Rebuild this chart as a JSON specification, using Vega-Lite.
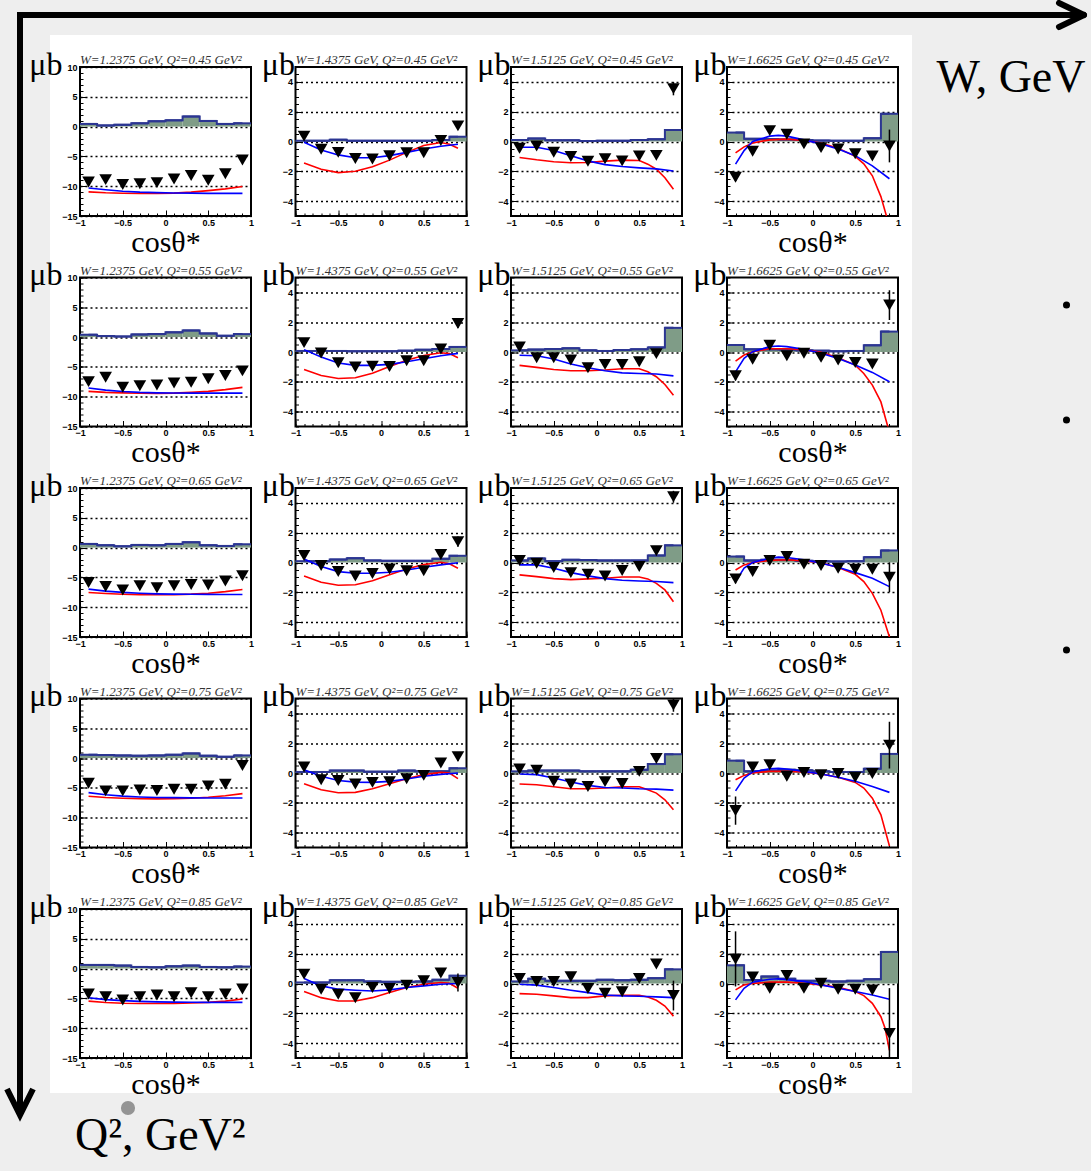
{
"$schema": "https://vega.github.io/schema/vega-lite/v6.json",
"padding": {"left": -5, "top": -5, "right": 0, "bottom": 0},
"background": "#eeeeee",
"spacing": 0,
"bounds": "flush",
"config": {
  "view": {"stroke": null},
  "axis": {"labelFont": "Liberation Sans", "labelFontWeight": "bold", "labelFontSize": 9, "labelColor": "black", "tickColor": "black", "tickWidth": 1, "domain": false, "grid": false, "labelFlush": false, "labelOverlap": false, "labelBound": false, "titleFont": "Liberation Serif", "titleFontWeight": "normal", "titleColor": "black", "gridColor": "black", "gridDash": [2, 3], "gridWidth": 1.3, "gridOpacity": 1},
  "headerFacet": {"labels": false, "title": null, "labelExpr": "''", "labelPadding": 0}
},
"hconcat": [
  {
    "width": 80, "height": 1176,
    "data": {"values": [{}]},
    "layer": [
      {"mark": {"type": "rect", "fill": "white"},
       "encoding": {"x": {"datum": 50, "type": "quantitative", "scale": {"domain": [0, 80], "nice": false, "zero": false}, "axis": null}, "x2": {"datum": 912},
                    "y": {"datum": 40, "type": "quantitative", "scale": {"domain": [1176, 0], "nice": false, "zero": false}, "axis": null}, "y2": {"datum": 1098}}},
      {"mark": {"type": "rule", "stroke": "black", "strokeWidth": 6},
       "encoding": {"x": {"datum": 20, "type": "quantitative"}, "y": {"datum": 17, "type": "quantitative"}, "y2": {"datum": 1119}}},
      {"mark": {"type": "rule", "stroke": "black", "strokeWidth": 6},
       "encoding": {"x": {"datum": 17, "type": "quantitative"}, "x2": {"datum": 81}, "y": {"datum": 20, "type": "quantitative"}}},
      {"mark": {"type": "point", "shape": "M-1,-2L0,0L1,-2", "filled": false, "stroke": "black", "strokeWidth": 6, "size": 676, "opacity": 1},
       "encoding": {"x": {"datum": 20, "type": "quantitative"}, "y": {"datum": 1120, "type": "quantitative"}}}
    ]
  },
  {
    "spacing": 0,
    "bounds": "full",
    "vconcat": [
      {
        "width": 1011, "height": 42,
        "data": {"values": [{}]},
        "layer": [
          {"mark": {"type": "rule", "stroke": "black", "strokeWidth": 6},
           "encoding": {"x": {"datum": 0, "type": "quantitative", "scale": {"domain": [0, 1011], "nice": false, "zero": false}, "axis": null}, "x2": {"datum": 1002},
                        "y": {"datum": 20, "type": "quantitative", "scale": {"domain": [42, 0], "nice": false, "zero": false}, "axis": null}}},
          {"mark": {"type": "rule", "stroke": "black", "strokeWidth": 6, "strokeCap": "round"},
           "encoding": {"x": {"datum": 979, "type": "quantitative"}, "x2": {"datum": 1004}, "y": {"datum": 8, "type": "quantitative"}, "y2": {"datum": 20}}},
          {"mark": {"type": "rule", "stroke": "black", "strokeWidth": 6, "strokeCap": "round"},
           "encoding": {"x": {"datum": 979, "type": "quantitative"}, "x2": {"datum": 1004}, "y": {"datum": 32, "type": "quantitative"}, "y2": {"datum": 20}}}
        ]
      },
      {
        "spacing": 4.5,
        "bounds": "full",
        "hconcat": [
          {
            "data": {"values": [
              {"k":"0.45 1.2375","x":-0.9,"lo":-1,"hi":-0.8,"h":0.45,"p":-9.3,"r":-10.95,"b":-10.3,"t":"W=1.2375 GeV, Q²=0.45 GeV²"},
              {"k":"0.45 1.2375","x":-0.7,"lo":-0.8,"hi":-0.6,"h":0.2,"p":-8.9,"r":-11.1,"b":-10.6},
              {"k":"0.45 1.2375","x":-0.5,"lo":-0.6,"hi":-0.4,"h":0.3,"p":-9.7,"r":-11.18,"b":-10.85},
              {"k":"0.45 1.2375","x":-0.3,"lo":-0.4,"hi":-0.2,"h":0.55,"p":-9.6,"r":-11.22,"b":-11.0},
              {"k":"0.45 1.2375","x":-0.1,"lo":-0.2,"hi":0,"h":0.9,"p":-9.4,"r":-11.22,"b":-11.08},
              {"k":"0.45 1.2375","x":0.1,"lo":0,"hi":0.2,"h":1.05,"p":-8.8,"r":-11.17,"b":-11.13},
              {"k":"0.45 1.2375","x":0.3,"lo":0.2,"hi":0.4,"h":1.7,"p":-8.2,"r":-11.0,"b":-11.17},
              {"k":"0.45 1.2375","x":0.5,"lo":0.4,"hi":0.6,"h":0.95,"p":-9.0,"r":-10.75,"b":-11.2},
              {"k":"0.45 1.2375","x":0.7,"lo":0.6,"hi":0.8,"h":0.45,"p":-7.9,"r":-10.45,"b":-11.2},
              {"k":"0.45 1.2375","x":0.9,"lo":0.8,"hi":1,"h":0.55,"p":-5.6,"r":-10.05,"b":-11.2},
              {"k":"0.55 1.2375","x":-0.9,"lo":-1,"hi":-0.8,"h":0.4,"p":-7.47,"r":-9.1,"b":-8.54,"t":"W=1.2375 GeV, Q²=0.55 GeV²"},
              {"k":"0.55 1.2375","x":-0.7,"lo":-0.8,"hi":-0.6,"h":0.17,"p":-6.74,"r":-9.27,"b":-8.9},
              {"k":"0.55 1.2375","x":-0.5,"lo":-0.6,"hi":-0.4,"h":0.1,"p":-8.43,"r":-9.36,"b":-9.12},
              {"k":"0.55 1.2375","x":-0.3,"lo":-0.4,"hi":-0.2,"h":0.45,"p":-8.15,"r":-9.42,"b":-9.27},
              {"k":"0.55 1.2375","x":-0.1,"lo":-0.2,"hi":0,"h":0.5,"p":-8.03,"r":-9.44,"b":-9.35},
              {"k":"0.55 1.2375","x":0.1,"lo":0,"hi":0.2,"h":0.8,"p":-7.7,"r":-9.4,"b":-9.38},
              {"k":"0.55 1.2375","x":0.3,"lo":0.2,"hi":0.4,"h":1.12,"p":-7.58,"r":-9.27,"b":-9.4},
              {"k":"0.55 1.2375","x":0.5,"lo":0.4,"hi":0.6,"h":0.62,"p":-7.0,"r":-9.1,"b":-9.4},
              {"k":"0.55 1.2375","x":0.7,"lo":0.6,"hi":0.8,"h":0.22,"p":-6.46,"r":-8.82,"b":-9.4},
              {"k":"0.55 1.2375","x":0.9,"lo":0.8,"hi":1,"h":0.5,"p":-5.67,"r":-8.43,"b":-9.4},
              {"k":"0.65 1.2375","x":-0.9,"lo":-1,"hi":-0.8,"h":0.62,"p":-5.84,"r":-7.53,"b":-6.97,"t":"W=1.2375 GeV, Q²=0.65 GeV²"},
              {"k":"0.65 1.2375","x":-0.7,"lo":-0.8,"hi":-0.6,"h":0.4,"p":-6.52,"r":-7.7,"b":-7.3},
              {"k":"0.65 1.2375","x":-0.5,"lo":-0.6,"hi":-0.4,"h":0.22,"p":-7.13,"r":-7.82,"b":-7.52},
              {"k":"0.65 1.2375","x":-0.3,"lo":-0.4,"hi":-0.2,"h":0.45,"p":-6.4,"r":-7.89,"b":-7.67},
              {"k":"0.65 1.2375","x":-0.1,"lo":-0.2,"hi":0,"h":0.4,"p":-6.74,"r":-7.92,"b":-7.76},
              {"k":"0.65 1.2375","x":0.1,"lo":0,"hi":0.2,"h":0.62,"p":-6.4,"r":-7.9,"b":-7.8},
              {"k":"0.65 1.2375","x":0.3,"lo":0.2,"hi":0.4,"h":0.9,"p":-6.18,"r":-7.81,"b":-7.83},
              {"k":"0.65 1.2375","x":0.5,"lo":0.4,"hi":0.6,"h":0.4,"p":-6.29,"r":-7.65,"b":-7.85},
              {"k":"0.65 1.2375","x":0.7,"lo":0.6,"hi":0.8,"h":0.28,"p":-5.62,"r":-7.38,"b":-7.86},
              {"k":"0.65 1.2375","x":0.9,"lo":0.8,"hi":1,"h":0.56,"p":-4.72,"r":-7.02,"b":-7.87},
              {"k":"0.75 1.2375","x":-0.9,"lo":-1,"hi":-0.8,"h":0.56,"p":-4.21,"r":-6.4,"b":-5.79,"t":"W=1.2375 GeV, Q²=0.75 GeV²"},
              {"k":"0.75 1.2375","x":-0.7,"lo":-0.8,"hi":-0.6,"h":0.5,"p":-5.5,"r":-6.6,"b":-6.15},
              {"k":"0.75 1.2375","x":-0.5,"lo":-0.6,"hi":-0.4,"h":0.45,"p":-5.5,"r":-6.73,"b":-6.38},
              {"k":"0.75 1.2375","x":-0.3,"lo":-0.4,"hi":-0.2,"h":0.4,"p":-5.34,"r":-6.8,"b":-6.52},
              {"k":"0.75 1.2375","x":-0.1,"lo":-0.2,"hi":0,"h":0.45,"p":-5.45,"r":-6.84,"b":-6.6},
              {"k":"0.75 1.2375","x":0.1,"lo":0,"hi":0.2,"h":0.56,"p":-5.22,"r":-6.83,"b":-6.64},
              {"k":"0.75 1.2375","x":0.3,"lo":0.2,"hi":0.4,"h":0.79,"p":-5.22,"r":-6.74,"b":-6.67},
              {"k":"0.75 1.2375","x":0.5,"lo":0.4,"hi":0.6,"h":0.4,"p":-4.66,"r":-6.58,"b":-6.69},
              {"k":"0.75 1.2375","x":0.7,"lo":0.6,"hi":0.8,"h":0.22,"p":-4.38,"r":-6.33,"b":-6.69},
              {"k":"0.75 1.2375","x":0.9,"lo":0.8,"hi":1,"h":0.45,"p":-1.24,"r":-5.96,"b":-6.69},
              {"k":"0.85 1.2375","x":-0.9,"lo":-1,"hi":-0.8,"h":0.62,"p":-4.27,"r":-5.45,"b":-4.89,"t":"W=1.2375 GeV, Q²=0.85 GeV²"},
              {"k":"0.85 1.2375","x":-0.7,"lo":-0.8,"hi":-0.6,"h":0.62,"p":-4.72,"r":-5.7,"b":-5.2},
              {"k":"0.85 1.2375","x":-0.5,"lo":-0.6,"hi":-0.4,"h":0.5,"p":-5.28,"e":0.4,"r":-5.82,"b":-5.38},
              {"k":"0.85 1.2375","x":-0.3,"lo":-0.4,"hi":-0.2,"h":0.28,"p":-4.72,"r":-5.86,"b":-5.5},
              {"k":"0.85 1.2375","x":-0.1,"lo":-0.2,"hi":0,"h":0.22,"p":-4.44,"r":-5.86,"b":-5.58},
              {"k":"0.85 1.2375","x":0.1,"lo":0,"hi":0.2,"h":0.39,"p":-4.72,"r":-5.84,"b":-5.62},
              {"k":"0.85 1.2375","x":0.3,"lo":0.2,"hi":0.4,"h":0.5,"p":-4.04,"r":-5.78,"b":-5.65},
              {"k":"0.85 1.2375","x":0.5,"lo":0.4,"hi":0.6,"h":0.28,"p":-4.72,"r":-5.67,"b":-5.67},
              {"k":"0.85 1.2375","x":0.7,"lo":0.6,"hi":0.8,"h":0.22,"p":-4.27,"r":-5.45,"b":-5.67},
              {"k":"0.85 1.2375","x":0.9,"lo":0.8,"hi":1,"h":0.34,"p":-3.43,"r":-5.11,"b":-5.67}
            ]},
            "facet": {"field": "k", "type": "nominal", "header": {"labels": false, "title": null, "labelExpr": "''", "labelPadding": 0}},
            "columns": 1,
            "spacing": {"row": 61.5, "column": 44.5},
            "bounds": "flush",
            "resolve": {"axis": {"x": "independent", "y": "independent"}},
            "spec": {
              "width": 171, "height": 149,
              "view": {"stroke": "black", "strokeWidth": 2, "fill": "white"},
              "resolve": {"axis": {"x": "independent", "y": "independent"}},
              "layer": [
                {"transform": [{"filter": "isValid(datum.h)"}],
                 "mark": {"type": "rect", "fill": "#7f9c87"},
                 "encoding": {
                   "x": {"field": "lo", "type": "quantitative", "scale": {"domain": [-1, 1], "nice": false, "zero": false}, "axis": {"orient": "bottom", "values": [-1,-0.9,-0.8,-0.7,-0.6,-0.5,-0.4,-0.3,-0.2,-0.1,0,0.1,0.2,0.3,0.4,0.5,0.6,0.7,0.8,0.9,1], "labels": false, "tickSize": -3, "title": null}},
                   "x2": {"field": "hi"},
                   "y": {"field": "h", "type": "quantitative", "scale": {"domain": [-15, 10], "nice": false, "zero": false}, "axis": {"orient": "left", "values": [-15,-14,-13,-12,-11,-10,-9,-8,-7,-6,-5,-4,-3,-2,-1,0,1,2,3,4,5,6,7,8,9,10], "labels": false, "tickSize": -3, "title": null}},
                   "y2": {"datum": 0}}},
                {"transform": [{"filter": "isValid(datum.h)"}],
                 "mark": {"type": "rule", "stroke": "#2b3592", "strokeWidth": 2},
                 "encoding": {"x": {"field": "lo", "type": "quantitative", "axis": null}, "x2": {"field": "hi"}, "y": {"field": "h", "type": "quantitative", "axis": null}}},
                {"transform": [{"filter": "isValid(datum.h)"}],
                 "mark": {"type": "line", "interpolate": "step", "stroke": "#2b3592", "strokeWidth": 2},
                 "encoding": {"x": {"field": "x", "type": "quantitative", "axis": null}, "y": {"field": "h", "type": "quantitative", "axis": null}}},
                {"transform": [{"filter": "isValid(datum.r)"}],
                 "mark": {"type": "line", "stroke": "#ff0000", "strokeWidth": 1.6, "clip": true},
                 "encoding": {"x": {"field": "x", "type": "quantitative", "axis": null}, "y": {"field": "r", "type": "quantitative", "axis": null}}},
                {"transform": [{"filter": "isValid(datum.b)"}],
                 "mark": {"type": "line", "stroke": "#0000ff", "strokeWidth": 1.6, "clip": true},
                 "encoding": {"x": {"field": "x", "type": "quantitative", "axis": null}, "y": {"field": "b", "type": "quantitative", "axis": null}}},
                {"transform": [{"filter": "datum.e > 0"}],
                 "mark": {"type": "errorbar", "ticks": false, "color": "black", "thickness": 1.5, "clip": true},
                 "encoding": {"x": {"field": "x", "type": "quantitative", "axis": null}, "y": {"field": "p", "type": "quantitative", "axis": null}, "yError": {"field": "e"}}},
                {"transform": [{"filter": "isValid(datum.t)"}],
                 "mark": {"type": "text", "align": "left", "baseline": "alphabetic", "font": "Liberation Serif", "fontStyle": "italic", "fontSize": 13, "color": "#333333", "dy": -3},
                 "encoding": {"x": {"datum": -1, "type": "quantitative", "axis": null}, "y": {"datum": 10, "type": "quantitative", "axis": null}, "text": {"field": "t"}}},
                {"transform": [{"filter": "isValid(datum.p)"}],
                 "mark": {"type": "point", "shape": "triangle-down", "filled": true, "color": "black", "size": 160, "opacity": 1},
                 "encoding": {
                   "x": {"field": "x", "type": "quantitative", "axis": {"orient": "bottom", "values": [-1, -0.5, 0, 0.5, 1], "format": "~g", "tickSize": -6, "labelPadding": 8, "title": "cosθ*", "titleFontSize": 30, "titleBaseline": "alphabetic", "titleY": 35}},
                   "y": {"field": "p", "type": "quantitative", "axis": {"orient": "left", "values": [-15, -10, -5, 0, 5, 10], "tickSize": -6, "labelPadding": 9, "grid": true, "title": "μb", "titleFontSize": 32, "titleAngle": 0, "titleAlign": "right", "titleBaseline": "alphabetic", "titleX": -18, "titleY": 7}}}}
              ]
            }
          },
          {
            "data": {"values": [
              {"k":"0.45 1.4375","x":-0.9,"lo":-1,"hi":-0.8,"h":0.05,"p":0.36,"r":-1.45,"b":-0.05,"t":"W=1.4375 GeV, Q²=0.45 GeV²"},
              {"k":"0.45 1.4375","x":-0.7,"lo":-0.8,"hi":-0.6,"h":0.05,"p":-0.52,"r":-1.86,"b":-0.57},
              {"k":"0.45 1.4375","x":-0.5,"lo":-0.6,"hi":-0.4,"h":0.12,"p":-0.73,"r":-2.09,"b":-0.9},
              {"k":"0.45 1.4375","x":-0.3,"lo":-0.4,"hi":-0.2,"h":0.05,"p":-1.14,"r":-2.0,"b":-1.09},
              {"k":"0.45 1.4375","x":-0.1,"lo":-0.2,"hi":0,"h":0.05,"p":-1.18,"r":-1.7,"b":-1.09},
              {"k":"0.45 1.4375","x":0.1,"lo":0,"hi":0.2,"h":0.05,"p":-0.95,"r":-1.25,"b":-0.95},
              {"k":"0.45 1.4375","x":0.3,"lo":0.2,"hi":0.4,"h":0.05,"p":-0.75,"r":-0.73,"b":-0.73},
              {"k":"0.45 1.4375","x":0.5,"lo":0.4,"hi":0.6,"h":0.05,"p":-0.75,"r":-0.27,"b":-0.5},
              {"k":"0.45 1.4375","x":0.7,"lo":0.6,"hi":0.8,"h":0.1,"p":0.07,"r":-0.07,"b":-0.32},
              {"k":"0.45 1.4375","x":0.8,"r":-0.18},
              {"k":"0.45 1.4375","x":0.9,"lo":0.8,"hi":1,"h":0.32,"p":1.05,"r":-0.45,"b":-0.18},
              {"k":"0.45 1.5125","x":-0.9,"lo":-1,"hi":-0.8,"h":0.1,"p":-0.45,"r":-1.07,"b":-0.39,"t":"W=1.5125 GeV, Q²=0.45 GeV²"},
              {"k":"0.45 1.5125","x":-0.7,"lo":-0.8,"hi":-0.6,"h":0.2,"p":-0.3,"r":-1.23,"b":-0.39},
              {"k":"0.45 1.5125","x":-0.5,"lo":-0.6,"hi":-0.4,"h":0.08,"p":-0.72,"r":-1.36,"b":-0.61},
              {"k":"0.45 1.5125","x":-0.3,"lo":-0.4,"hi":-0.2,"h":0.08,"p":-1.0,"r":-1.43,"b":-0.95},
              {"k":"0.45 1.5125","x":-0.1,"lo":-0.2,"hi":0,"h":0.03,"p":-1.33,"r":-1.41,"b":-1.3},
              {"k":"0.45 1.5125","x":0.1,"lo":0,"hi":0.2,"h":0.05,"p":-1.16,"r":-1.32,"b":-1.55},
              {"k":"0.45 1.5125","x":0.3,"lo":0.2,"hi":0.4,"h":0.05,"p":-1.3,"r":-1.25,"b":-1.68},
              {"k":"0.45 1.5125","x":0.5,"lo":0.4,"hi":0.6,"h":0.1,"p":-0.98,"r":-1.28,"b":-1.77},
              {"k":"0.45 1.5125","x":0.6,"r":-1.52},
              {"k":"0.45 1.5125","x":0.7,"lo":0.6,"hi":0.8,"h":0.15,"p":-0.93,"r":-1.86,"b":-1.84},
              {"k":"0.45 1.5125","x":0.8,"r":-2.43},
              {"k":"0.45 1.5125","x":0.9,"lo":0.8,"hi":1,"h":0.77,"p":3.55,"e":0.45,"r":-3.2,"b":-1.98},
              {"k":"0.55 1.4375","x":-0.9,"lo":-1,"hi":-0.8,"h":0.07,"p":0.63,"r":-1.17,"b":0.16,"t":"W=1.4375 GeV, Q²=0.55 GeV²"},
              {"k":"0.55 1.4375","x":-0.7,"lo":-0.8,"hi":-0.6,"h":0.07,"p":-0.07,"r":-1.58,"b":-0.34},
              {"k":"0.55 1.4375","x":-0.5,"lo":-0.6,"hi":-0.4,"h":0.07,"p":-0.72,"r":-1.78,"b":-0.74},
              {"k":"0.55 1.4375","x":-0.3,"lo":-0.4,"hi":-0.2,"h":0.05,"p":-1.01,"r":-1.73,"b":-0.9},
              {"k":"0.55 1.4375","x":-0.1,"lo":-0.2,"hi":0,"h":0.05,"p":-0.95,"r":-1.42,"b":-0.9},
              {"k":"0.55 1.4375","x":0.1,"lo":0,"hi":0.2,"h":0.05,"p":-0.97,"r":-0.97,"b":-0.83},
              {"k":"0.55 1.4375","x":0.3,"lo":0.2,"hi":0.4,"h":0.09,"p":-0.59,"r":-0.56,"b":-0.65},
              {"k":"0.55 1.4375","x":0.5,"lo":0.4,"hi":0.6,"h":0.15,"p":-0.59,"r":-0.23,"b":-0.45},
              {"k":"0.55 1.4375","x":0.7,"lo":0.6,"hi":0.8,"h":0.2,"p":0.2,"r":-0.05,"b":-0.25},
              {"k":"0.55 1.4375","x":0.8,"r":-0.11},
              {"k":"0.55 1.4375","x":0.9,"lo":0.8,"hi":1,"h":0.34,"p":1.91,"e":0.3,"r":-0.38,"b":-0.09},
              {"k":"0.55 1.5125","x":-0.9,"lo":-1,"hi":-0.8,"h":0.11,"p":0.34,"r":-0.9,"b":-0.22,"t":"W=1.5125 GeV, Q²=0.55 GeV²"},
              {"k":"0.55 1.5125","x":-0.7,"lo":-0.8,"hi":-0.6,"h":0.16,"p":-0.38,"r":-1.03,"b":-0.25},
              {"k":"0.55 1.5125","x":-0.5,"lo":-0.6,"hi":-0.4,"h":0.2,"p":-0.38,"r":-1.17,"b":-0.47},
              {"k":"0.55 1.5125","x":-0.3,"lo":-0.4,"hi":-0.2,"h":0.25,"p":-0.54,"r":-1.26,"b":-0.81},
              {"k":"0.55 1.5125","x":-0.1,"lo":-0.2,"hi":0,"h":0.11,"p":-1.06,"r":-1.26,"b":-1.06},
              {"k":"0.55 1.5125","x":0.1,"lo":0,"hi":0.2,"h":0.07,"p":-0.83,"r":-1.21,"b":-1.26},
              {"k":"0.55 1.5125","x":0.3,"lo":0.2,"hi":0.4,"h":0.13,"p":-0.83,"r":-1.12,"b":-1.4},
              {"k":"0.55 1.5125","x":0.5,"lo":0.4,"hi":0.6,"h":0.18,"p":-0.65,"r":-1.12,"b":-1.44},
              {"k":"0.55 1.5125","x":0.6,"r":-1.33},
              {"k":"0.55 1.5125","x":0.7,"lo":0.6,"hi":0.8,"h":0.31,"p":-0.11,"r":-1.66,"b":-1.48},
              {"k":"0.55 1.5125","x":0.8,"r":-2.18},
              {"k":"0.55 1.5125","x":0.9,"lo":0.8,"hi":1,"h":1.62,"r":-2.9,"b":-1.6},
              {"k":"0.65 1.4375","x":-0.9,"lo":-1,"hi":-0.8,"h":0.09,"p":0.47,"r":-0.9,"b":0.23,"t":"W=1.4375 GeV, Q²=0.65 GeV²"},
              {"k":"0.65 1.4375","x":-0.7,"lo":-0.8,"hi":-0.6,"h":0.09,"p":-0.2,"r":-1.33,"b":-0.27},
              {"k":"0.65 1.4375","x":-0.5,"lo":-0.6,"hi":-0.4,"h":0.2,"p":-0.61,"r":-1.53,"b":-0.61},
              {"k":"0.65 1.4375","x":-0.3,"lo":-0.4,"hi":-0.2,"h":0.29,"p":-0.9,"r":-1.49,"b":-0.72},
              {"k":"0.65 1.4375","x":-0.1,"lo":-0.2,"hi":0,"h":0.14,"p":-0.74,"r":-1.22,"b":-0.72},
              {"k":"0.65 1.4375","x":0.1,"lo":0,"hi":0.2,"h":0.11,"p":-0.43,"r":-0.83,"b":-0.65},
              {"k":"0.65 1.4375","x":0.3,"lo":0.2,"hi":0.4,"h":0.11,"p":-0.56,"r":-0.43,"b":-0.5},
              {"k":"0.65 1.4375","x":0.5,"lo":0.4,"hi":0.6,"h":0.11,"p":-0.56,"r":-0.14,"b":-0.32},
              {"k":"0.65 1.4375","x":0.7,"lo":0.6,"hi":0.8,"h":0.25,"p":0.54,"r":0.02,"b":-0.16},
              {"k":"0.65 1.4375","x":0.8,"r":-0.09},
              {"k":"0.65 1.4375","x":0.9,"lo":0.8,"hi":1,"h":0.45,"p":1.4,"e":0.35,"r":-0.38,"b":-0.02},
              {"k":"0.65 1.5125","x":-0.9,"lo":-1,"hi":-0.8,"h":0.14,"p":0.14,"r":-0.83,"b":-0.16,"t":"W=1.5125 GeV, Q²=0.65 GeV²"},
              {"k":"0.65 1.5125","x":-0.7,"lo":-0.8,"hi":-0.6,"h":0.27,"p":-0.05,"r":-0.95,"b":-0.16},
              {"k":"0.65 1.5125","x":-0.5,"lo":-0.6,"hi":-0.4,"h":0.09,"p":-0.34,"r":-1.08,"b":-0.38},
              {"k":"0.65 1.5125","x":-0.3,"lo":-0.4,"hi":-0.2,"h":0.18,"p":-0.68,"r":-1.15,"b":-0.68},
              {"k":"0.65 1.5125","x":-0.1,"lo":-0.2,"hi":0,"h":0.16,"p":-0.79,"r":-1.1,"b":-0.9},
              {"k":"0.65 1.5125","x":0.1,"lo":0,"hi":0.2,"h":0.14,"p":-0.9,"r":-1.06,"b":-1.08},
              {"k":"0.65 1.5125","x":0.3,"lo":0.2,"hi":0.4,"h":0.14,"p":-0.54,"r":-0.97,"b":-1.19},
              {"k":"0.65 1.5125","x":0.5,"lo":0.4,"hi":0.6,"h":0.14,"p":-0.27,"r":-0.97,"b":-1.24},
              {"k":"0.65 1.5125","x":0.6,"r":-1.1},
              {"k":"0.65 1.5125","x":0.7,"lo":0.6,"hi":0.8,"h":0.47,"p":0.79,"r":-1.4,"b":-1.28},
              {"k":"0.65 1.5125","x":0.8,"r":-1.84},
              {"k":"0.65 1.5125","x":0.9,"lo":0.8,"hi":1,"h":1.15,"p":4.41,"e":0.4,"r":-2.63,"b":-1.35},
              {"k":"0.75 1.4375","x":-0.9,"lo":-1,"hi":-0.8,"h":0.07,"p":0.4,"r":-0.72,"b":0.22,"t":"W=1.4375 GeV, Q²=0.75 GeV²"},
              {"k":"0.75 1.4375","x":-0.7,"lo":-0.8,"hi":-0.6,"h":0.07,"p":-0.45,"r":-1.12,"b":-0.22},
              {"k":"0.75 1.4375","x":-0.5,"lo":-0.6,"hi":-0.4,"h":0.16,"p":-0.5,"r":-1.33,"b":-0.5},
              {"k":"0.75 1.4375","x":-0.3,"lo":-0.4,"hi":-0.2,"h":0.16,"p":-0.74,"r":-1.3,"b":-0.61},
              {"k":"0.75 1.4375","x":-0.1,"lo":-0.2,"hi":0,"h":0.09,"p":-0.63,"r":-1.06,"b":-0.63},
              {"k":"0.75 1.4375","x":0.1,"lo":0,"hi":0.2,"h":0.09,"p":-0.58,"r":-0.72,"b":-0.56},
              {"k":"0.75 1.4375","x":0.3,"lo":0.2,"hi":0.4,"h":0.16,"p":-0.38,"r":-0.38,"b":-0.4},
              {"k":"0.75 1.4375","x":0.5,"lo":0.4,"hi":0.6,"h":0.11,"p":-0.16,"r":-0.11,"b":-0.22},
              {"k":"0.75 1.4375","x":0.7,"lo":0.6,"hi":0.8,"h":0.11,"p":0.67,"r":0.04,"b":-0.09},
              {"k":"0.75 1.4375","x":0.8,"r":0},
              {"k":"0.75 1.4375","x":0.9,"lo":0.8,"hi":1,"h":0.32,"p":1.1,"e":0.3,"r":-0.38,"b":0},
              {"k":"0.75 1.5125","x":-0.9,"lo":-1,"hi":-0.8,"h":0.11,"p":0.27,"r":-0.74,"b":-0.07,"t":"W=1.5125 GeV, Q²=0.75 GeV²"},
              {"k":"0.75 1.5125","x":-0.7,"lo":-0.8,"hi":-0.6,"h":0.16,"p":0.18,"r":-0.79,"b":-0.11},
              {"k":"0.75 1.5125","x":-0.5,"lo":-0.6,"hi":-0.4,"h":0.16,"p":-0.56,"r":-0.92,"b":-0.34},
              {"k":"0.75 1.5125","x":-0.3,"lo":-0.4,"hi":-0.2,"h":0.16,"p":-0.74,"r":-1.06,"b":-0.61},
              {"k":"0.75 1.5125","x":-0.1,"lo":-0.2,"hi":0,"h":0.11,"p":-0.9,"r":-1.06,"b":-0.83},
              {"k":"0.75 1.5125","x":0.1,"lo":0,"hi":0.2,"h":0.11,"p":-0.58,"r":-1.01,"b":-0.97},
              {"k":"0.75 1.5125","x":0.3,"lo":0.2,"hi":0.4,"h":0.11,"p":-0.7,"r":-0.92,"b":-1.01},
              {"k":"0.75 1.5125","x":0.5,"lo":0.4,"hi":0.6,"h":0.22,"p":0.11,"r":-0.92,"b":-1.06},
              {"k":"0.75 1.5125","x":0.6,"r":-1.12},
              {"k":"0.75 1.5125","x":0.7,"lo":0.6,"hi":0.8,"h":0.6,"p":0.97,"r":-1.35,"b":-1.08},
              {"k":"0.75 1.5125","x":0.8,"r":-1.8},
              {"k":"0.75 1.5125","x":0.9,"lo":0.8,"hi":1,"h":1.26,"p":4.56,"e":0.45,"r":-2.47,"b":-1.15},
              {"k":"0.85 1.4375","x":-0.9,"lo":-1,"hi":-0.8,"h":0.07,"p":0.63,"r":-0.54,"b":0.34,"t":"W=1.4375 GeV, Q²=0.85 GeV²"},
              {"k":"0.85 1.4375","x":-0.7,"lo":-0.8,"hi":-0.6,"h":0.07,"p":-0.38,"r":-0.95,"b":-0.16},
              {"k":"0.85 1.4375","x":-0.5,"lo":-0.6,"hi":-0.4,"h":0.22,"p":-0.72,"r":-1.17,"b":-0.38},
              {"k":"0.85 1.4375","x":-0.3,"lo":-0.4,"hi":-0.2,"h":0.22,"p":-0.95,"r":-1.17,"b":-0.45},
              {"k":"0.85 1.4375","x":-0.1,"lo":-0.2,"hi":0,"h":0.14,"p":-0.27,"r":-0.95,"b":-0.5},
              {"k":"0.85 1.4375","x":0.1,"lo":0,"hi":0.2,"h":0.11,"p":-0.34,"r":-0.61,"b":-0.43},
              {"k":"0.85 1.4375","x":0.3,"lo":0.2,"hi":0.4,"h":0.11,"p":-0.11,"r":-0.27,"b":-0.27},
              {"k":"0.85 1.4375","x":0.5,"lo":0.4,"hi":0.6,"h":0.14,"p":0.18,"r":-0.05,"b":-0.16},
              {"k":"0.85 1.4375","x":0.7,"lo":0.6,"hi":0.8,"h":0.25,"p":0.7,"r":0.07,"b":-0.05},
              {"k":"0.85 1.4375","x":0.8,"r":0.02},
              {"k":"0.85 1.4375","x":0.9,"lo":0.8,"hi":1,"h":0.52,"p":0.07,"e":0.6,"r":-0.32,"b":0},
              {"k":"0.85 1.5125","x":-0.9,"lo":-1,"hi":-0.8,"h":0.14,"p":0.34,"r":-0.68,"b":-0.05,"t":"W=1.5125 GeV, Q²=0.85 GeV²"},
              {"k":"0.85 1.5125","x":-0.7,"lo":-0.8,"hi":-0.6,"h":0.32,"p":0.14,"r":-0.72,"b":-0.11},
              {"k":"0.85 1.5125","x":-0.5,"lo":-0.6,"hi":-0.4,"h":0.18,"p":0.14,"r":-0.83,"b":-0.27},
              {"k":"0.85 1.5125","x":-0.3,"lo":-0.4,"hi":-0.2,"h":0.18,"p":0.45,"r":-0.95,"b":-0.45},
              {"k":"0.85 1.5125","x":-0.1,"lo":-0.2,"hi":0,"h":0.18,"p":-0.34,"r":-0.95,"b":-0.61},
              {"k":"0.85 1.5125","x":0.1,"lo":0,"hi":0.2,"h":0.25,"p":-0.65,"r":-0.83,"b":-0.77},
              {"k":"0.85 1.5125","x":0.3,"lo":0.2,"hi":0.4,"h":0.22,"p":-0.56,"r":-0.79,"b":-0.83},
              {"k":"0.85 1.5125","x":0.5,"lo":0.4,"hi":0.6,"h":0.25,"p":0.34,"r":-0.79,"b":-0.86},
              {"k":"0.85 1.5125","x":0.6,"r":-0.9},
              {"k":"0.85 1.5125","x":0.7,"lo":0.6,"hi":0.8,"h":0.36,"p":1.31,"r":-1.13,"b":-0.9},
              {"k":"0.85 1.5125","x":0.8,"r":-1.51},
              {"k":"0.85 1.5125","x":0.9,"lo":0.8,"hi":1,"h":0.95,"p":-0.81,"e":1.0,"r":-2.19,"b":-0.95}
            ]},
            "facet": {"field": "k", "type": "nominal", "header": {"labels": false, "title": null, "labelExpr": "''", "labelPadding": 0}},
            "columns": 2,
            "spacing": {"row": 61.5, "column": 44.5},
            "bounds": "flush",
            "resolve": {"axis": {"x": "independent", "y": "independent"}},
            "spec": {
              "width": 171, "height": 149,
              "view": {"stroke": "black", "strokeWidth": 2, "fill": "white"},
              "resolve": {"axis": {"x": "independent", "y": "independent"}},
              "layer": [
                {"transform": [{"filter": "isValid(datum.h)"}],
                 "mark": {"type": "rect", "fill": "#7f9c87"},
                 "encoding": {
                   "x": {"field": "lo", "type": "quantitative", "scale": {"domain": [-1, 1], "nice": false, "zero": false}, "axis": {"orient": "bottom", "values": [-1,-0.9,-0.8,-0.7,-0.6,-0.5,-0.4,-0.3,-0.2,-0.1,0,0.1,0.2,0.3,0.4,0.5,0.6,0.7,0.8,0.9,1], "labels": false, "tickSize": -3, "title": null}},
                   "x2": {"field": "hi"},
                   "y": {"field": "h", "type": "quantitative", "scale": {"domain": [-5, 5], "nice": false, "zero": false}, "axis": {"orient": "left", "values": [-5,-4.5,-4,-3.5,-3,-2.5,-2,-1.5,-1,-0.5,0,0.5,1,1.5,2,2.5,3,3.5,4,4.5,5], "labels": false, "tickSize": -3, "title": null}},
                   "y2": {"datum": 0}}},
                {"transform": [{"filter": "isValid(datum.h)"}],
                 "mark": {"type": "rule", "stroke": "#2b3592", "strokeWidth": 2},
                 "encoding": {"x": {"field": "lo", "type": "quantitative", "axis": null}, "x2": {"field": "hi"}, "y": {"field": "h", "type": "quantitative", "axis": null}}},
                {"transform": [{"filter": "isValid(datum.h)"}],
                 "mark": {"type": "line", "interpolate": "step", "stroke": "#2b3592", "strokeWidth": 2},
                 "encoding": {"x": {"field": "x", "type": "quantitative", "axis": null}, "y": {"field": "h", "type": "quantitative", "axis": null}}},
                {"transform": [{"filter": "isValid(datum.r)"}],
                 "mark": {"type": "line", "stroke": "#ff0000", "strokeWidth": 1.6, "clip": true},
                 "encoding": {"x": {"field": "x", "type": "quantitative", "axis": null}, "y": {"field": "r", "type": "quantitative", "axis": null}}},
                {"transform": [{"filter": "isValid(datum.b)"}],
                 "mark": {"type": "line", "stroke": "#0000ff", "strokeWidth": 1.6, "clip": true},
                 "encoding": {"x": {"field": "x", "type": "quantitative", "axis": null}, "y": {"field": "b", "type": "quantitative", "axis": null}}},
                {"transform": [{"filter": "datum.e > 0"}],
                 "mark": {"type": "errorbar", "ticks": false, "color": "black", "thickness": 1.5, "clip": true},
                 "encoding": {"x": {"field": "x", "type": "quantitative", "axis": null}, "y": {"field": "p", "type": "quantitative", "axis": null}, "yError": {"field": "e"}}},
                {"transform": [{"filter": "isValid(datum.t)"}],
                 "mark": {"type": "text", "align": "left", "baseline": "alphabetic", "font": "Liberation Serif", "fontStyle": "italic", "fontSize": 13, "color": "#333333", "dy": -3},
                 "encoding": {"x": {"datum": -1, "type": "quantitative", "axis": null}, "y": {"datum": 5, "type": "quantitative", "axis": null}, "text": {"field": "t"}}},
                {"transform": [{"filter": "isValid(datum.p)"}],
                 "mark": {"type": "point", "shape": "triangle-down", "filled": true, "color": "black", "size": 160, "opacity": 1},
                 "encoding": {
                   "x": {"field": "x", "type": "quantitative", "axis": {"orient": "bottom", "values": [-1, -0.5, 0, 0.5, 1], "format": "~g", "tickSize": -6, "labelPadding": 8, "title": null}},
                   "y": {"field": "p", "type": "quantitative", "axis": {"orient": "left", "values": [-4, -2, 0, 2, 4], "tickSize": -6, "labelPadding": 9, "grid": true, "title": "μb", "titleFontSize": 32, "titleAngle": 0, "titleAlign": "right", "titleBaseline": "alphabetic", "titleX": -1, "titleY": 7}}}}
              ]
            }
          },
          {
            "data": {"values": [
              {"k":"0.45 1.6625","x":-0.9,"lo":-1,"hi":-0.8,"h":0.6,"p":-2.4,"e":0.25,"r":-0.77,"b":-1.52,"t":"W=1.6625 GeV, Q²=0.45 GeV²"},
              {"k":"0.45 1.6625","x":-0.8,"r":-0.36,"b":-0.61},
              {"k":"0.45 1.6625","x":-0.7,"lo":-0.8,"hi":-0.6,"h":0.18,"p":-0.66,"r":-0.1,"b":0},
              {"k":"0.45 1.6625","x":-0.5,"lo":-0.6,"hi":-0.4,"h":0.16,"p":0.73,"r":0.11,"b":0.36},
              {"k":"0.45 1.6625","x":-0.4,"b":0.41},
              {"k":"0.45 1.6625","x":-0.3,"lo":-0.4,"hi":-0.2,"h":0.14,"p":0.48,"r":0.16,"b":0.36},
              {"k":"0.45 1.6625","x":-0.1,"lo":-0.2,"hi":0,"h":0.1,"p":-0.16,"r":0.07,"b":0.11},
              {"k":"0.45 1.6625","x":0.1,"lo":0,"hi":0.2,"h":0.06,"p":-0.41,"r":-0.1,"b":-0.16},
              {"k":"0.45 1.6625","x":0.3,"lo":0.2,"hi":0.4,"h":0.05,"p":-0.5,"r":-0.45,"b":-0.5},
              {"k":"0.45 1.6625","x":0.5,"lo":0.4,"hi":0.6,"h":0.05,"p":-0.82,"r":-1.0,"b":-0.95},
              {"k":"0.45 1.6625","x":0.6,"r":-1.5},
              {"k":"0.45 1.6625","x":0.7,"lo":0.6,"hi":0.8,"h":0.22,"p":-0.98,"r":-2.3,"b":-1.64},
              {"k":"0.45 1.6625","x":0.8,"r":-3.7},
              {"k":"0.45 1.6625","x":0.9,"lo":0.8,"hi":1,"h":1.86,"p":-0.3,"e":1.1,"r":-5.7,"b":-2.5},
              {"k":"0.55 1.6625","x":-0.9,"lo":-1,"hi":-0.8,"h":0.47,"p":-1.6,"e":0.3,"r":-0.61,"b":-1.33,"t":"W=1.6625 GeV, Q²=0.55 GeV²"},
              {"k":"0.55 1.6625","x":-0.8,"r":-0.2,"b":-0.43},
              {"k":"0.55 1.6625","x":-0.7,"lo":-0.8,"hi":-0.6,"h":0.18,"p":-0.49,"r":0.02,"b":0.02},
              {"k":"0.55 1.6625","x":-0.5,"lo":-0.6,"hi":-0.4,"h":0.18,"p":0.45,"r":0.22,"b":0.36},
              {"k":"0.55 1.6625","x":-0.4,"b":0.4},
              {"k":"0.55 1.6625","x":-0.3,"lo":-0.4,"hi":-0.2,"h":0.16,"p":-0.25,"r":0.22,"b":0.36},
              {"k":"0.55 1.6625","x":-0.1,"lo":-0.2,"hi":0,"h":0.11,"p":-0.09,"r":0.16,"b":0.18},
              {"k":"0.55 1.6625","x":0.1,"lo":0,"hi":0.2,"h":0.09,"p":-0.36,"r":-0.02,"b":-0.09},
              {"k":"0.55 1.6625","x":0.3,"lo":0.2,"hi":0.4,"h":0.05,"p":-0.54,"r":-0.38,"b":-0.43},
              {"k":"0.55 1.6625","x":0.5,"lo":0.4,"hi":0.6,"h":0.07,"p":-0.7,"r":-0.88,"b":-0.88},
              {"k":"0.55 1.6625","x":0.6,"r":-1.44},
              {"k":"0.55 1.6625","x":0.7,"lo":0.6,"hi":0.8,"h":0.45,"p":-0.81,"r":-2.22,"b":-1.37},
              {"k":"0.55 1.6625","x":0.8,"r":-3.35},
              {"k":"0.55 1.6625","x":0.9,"lo":0.8,"hi":1,"h":1.37,"p":3.15,"e":1.0,"r":-5.4,"b":-2.0},
              {"k":"0.65 1.6625","x":-0.9,"lo":-1,"hi":-0.8,"h":0.4,"p":-1.1,"e":0.3,"r":-0.5,"b":-1.28,"t":"W=1.6625 GeV, Q²=0.65 GeV²"},
              {"k":"0.65 1.6625","x":-0.8,"r":-0.16,"b":-0.38},
              {"k":"0.65 1.6625","x":-0.7,"lo":-0.8,"hi":-0.6,"h":0.14,"p":-0.61,"r":0,"b":0},
              {"k":"0.65 1.6625","x":-0.5,"lo":-0.6,"hi":-0.4,"h":0.18,"p":0.14,"r":0.14,"b":0.29},
              {"k":"0.65 1.6625","x":-0.4,"b":0.36},
              {"k":"0.65 1.6625","x":-0.3,"lo":-0.4,"hi":-0.2,"h":0.18,"p":0.4,"r":0.18,"b":0.34},
              {"k":"0.65 1.6625","x":-0.1,"lo":-0.2,"hi":0,"h":0.11,"p":-0.11,"r":0.11,"b":0.18},
              {"k":"0.65 1.6625","x":0.1,"lo":0,"hi":0.2,"h":0.09,"p":-0.2,"r":-0.02,"b":-0.05},
              {"k":"0.65 1.6625","x":0.3,"lo":0.2,"hi":0.4,"h":0.07,"p":-0.38,"r":-0.34,"b":-0.32},
              {"k":"0.65 1.6625","x":0.5,"lo":0.4,"hi":0.6,"h":0.09,"p":-0.45,"r":-0.79,"b":-0.68},
              {"k":"0.65 1.6625","x":0.6,"r":-1.28},
              {"k":"0.65 1.6625","x":0.7,"lo":0.6,"hi":0.8,"h":0.36,"p":-0.45,"r":-2.07,"b":-1.06},
              {"k":"0.65 1.6625","x":0.8,"r":-3.2},
              {"k":"0.65 1.6625","x":0.9,"lo":0.8,"hi":1,"h":0.81,"p":-0.99,"e":1.0,"r":-5.0,"b":-1.62},
              {"k":"0.75 1.6625","x":-0.9,"lo":-1,"hi":-0.8,"h":0.83,"p":-2.52,"e":0.95,"r":-0.45,"b":-1.2,"t":"W=1.6625 GeV, Q²=0.75 GeV²"},
              {"k":"0.75 1.6625","x":-0.8,"r":-0.16,"b":-0.34},
              {"k":"0.75 1.6625","x":-0.7,"lo":-0.8,"hi":-0.6,"h":0.11,"p":0.4,"r":0,"b":0.07},
              {"k":"0.75 1.6625","x":-0.5,"lo":-0.6,"hi":-0.4,"h":0.16,"p":0.56,"r":0.11,"b":0.29},
              {"k":"0.75 1.6625","x":-0.4,"b":0.31},
              {"k":"0.75 1.6625","x":-0.3,"lo":-0.4,"hi":-0.2,"h":0.22,"p":-0.22,"r":0.11,"b":0.27},
              {"k":"0.75 1.6625","x":-0.1,"lo":-0.2,"hi":0,"h":0.18,"p":0.04,"r":0.07,"b":0.11},
              {"k":"0.75 1.6625","x":0.1,"lo":0,"hi":0.2,"h":0.11,"p":-0.11,"r":-0.07,"b":-0.07},
              {"k":"0.75 1.6625","x":0.3,"lo":0.2,"hi":0.4,"h":0.07,"p":-0.04,"r":-0.29,"b":-0.29},
              {"k":"0.75 1.6625","x":0.5,"lo":0.4,"hi":0.6,"h":0.07,"p":-0.29,"r":-0.63,"b":-0.56},
              {"k":"0.75 1.6625","x":0.6,"r":-1.01},
              {"k":"0.75 1.6625","x":0.7,"lo":0.6,"hi":0.8,"h":0.29,"p":-0.04,"r":-1.69,"b":-0.9},
              {"k":"0.75 1.6625","x":0.8,"r":-2.81},
              {"k":"0.75 1.6625","x":0.9,"lo":0.8,"hi":1,"h":1.28,"p":1.87,"e":1.57,"r":-4.9,"b":-1.3},
              {"k":"0.85 1.6625","x":-0.9,"lo":-1,"hi":-0.8,"h":1.22,"p":1.65,"e":1.85,"r":-0.43,"b":-1.1,"t":"W=1.6625 GeV, Q²=0.85 GeV²"},
              {"k":"0.85 1.6625","x":-0.8,"r":-0.09,"b":-0.32},
              {"k":"0.85 1.6625","x":-0.7,"lo":-0.8,"hi":-0.6,"h":0.23,"p":0.43,"r":0,"b":0.09},
              {"k":"0.85 1.6625","x":-0.5,"lo":-0.6,"hi":-0.4,"h":0.47,"p":-0.32,"r":0.09,"b":0.29},
              {"k":"0.85 1.6625","x":-0.4,"b":0.32},
              {"k":"0.85 1.6625","x":-0.3,"lo":-0.4,"hi":-0.2,"h":0.32,"p":0.54,"r":0.09,"b":0.25},
              {"k":"0.85 1.6625","x":-0.1,"lo":-0.2,"hi":0,"h":0.18,"p":-0.32,"r":0.02,"b":0.14},
              {"k":"0.85 1.6625","x":0.1,"lo":0,"hi":0.2,"h":0.18,"p":0.02,"r":-0.09,"b":-0.09},
              {"k":"0.85 1.6625","x":0.3,"lo":0.2,"hi":0.4,"h":0.14,"p":-0.38,"r":-0.25,"b":-0.32},
              {"k":"0.85 1.6625","x":0.5,"lo":0.4,"hi":0.6,"h":0.18,"p":-0.38,"r":-0.54,"b":-0.54},
              {"k":"0.85 1.6625","x":0.6,"r":-0.81},
              {"k":"0.85 1.6625","x":0.7,"lo":0.6,"hi":0.8,"h":0.29,"p":-0.43,"r":-1.33,"b":-0.77},
              {"k":"0.85 1.6625","x":0.8,"r":-2.23},
              {"k":"0.85 1.6625","x":0.85,"r":-3.02},
              {"k":"0.85 1.6625","x":0.9,"lo":0.8,"hi":1,"h":2.12,"p":-3.36,"e":3.05,"r":-4.49,"b":-1.06}
            ]},
            "facet": {"field": "k", "type": "nominal", "header": {"labels": false, "title": null, "labelExpr": "''", "labelPadding": 0}},
            "columns": 1,
            "spacing": {"row": 61.5, "column": 44.5},
            "bounds": "flush",
            "resolve": {"axis": {"x": "independent", "y": "independent"}},
            "spec": {
              "width": 171, "height": 149,
              "view": {"stroke": "black", "strokeWidth": 2, "fill": "white"},
              "resolve": {"axis": {"x": "independent", "y": "independent"}},
              "layer": [
                {"transform": [{"filter": "isValid(datum.h)"}],
                 "mark": {"type": "rect", "fill": "#7f9c87"},
                 "encoding": {
                   "x": {"field": "lo", "type": "quantitative", "scale": {"domain": [-1, 1], "nice": false, "zero": false}, "axis": {"orient": "bottom", "values": [-1,-0.9,-0.8,-0.7,-0.6,-0.5,-0.4,-0.3,-0.2,-0.1,0,0.1,0.2,0.3,0.4,0.5,0.6,0.7,0.8,0.9,1], "labels": false, "tickSize": -3, "title": null}},
                   "x2": {"field": "hi"},
                   "y": {"field": "h", "type": "quantitative", "scale": {"domain": [-5, 5], "nice": false, "zero": false}, "axis": {"orient": "left", "values": [-5,-4.5,-4,-3.5,-3,-2.5,-2,-1.5,-1,-0.5,0,0.5,1,1.5,2,2.5,3,3.5,4,4.5,5], "labels": false, "tickSize": -3, "title": null}},
                   "y2": {"datum": 0}}},
                {"transform": [{"filter": "isValid(datum.h)"}],
                 "mark": {"type": "rule", "stroke": "#2b3592", "strokeWidth": 2},
                 "encoding": {"x": {"field": "lo", "type": "quantitative", "axis": null}, "x2": {"field": "hi"}, "y": {"field": "h", "type": "quantitative", "axis": null}}},
                {"transform": [{"filter": "isValid(datum.h)"}],
                 "mark": {"type": "line", "interpolate": "step", "stroke": "#2b3592", "strokeWidth": 2},
                 "encoding": {"x": {"field": "x", "type": "quantitative", "axis": null}, "y": {"field": "h", "type": "quantitative", "axis": null}}},
                {"transform": [{"filter": "isValid(datum.r)"}],
                 "mark": {"type": "line", "stroke": "#ff0000", "strokeWidth": 1.6, "clip": true},
                 "encoding": {"x": {"field": "x", "type": "quantitative", "axis": null}, "y": {"field": "r", "type": "quantitative", "axis": null}}},
                {"transform": [{"filter": "isValid(datum.b)"}],
                 "mark": {"type": "line", "stroke": "#0000ff", "strokeWidth": 1.6, "clip": true},
                 "encoding": {"x": {"field": "x", "type": "quantitative", "axis": null}, "y": {"field": "b", "type": "quantitative", "axis": null}}},
                {"transform": [{"filter": "datum.e > 0"}],
                 "mark": {"type": "errorbar", "ticks": false, "color": "black", "thickness": 1.5, "clip": true},
                 "encoding": {"x": {"field": "x", "type": "quantitative", "axis": null}, "y": {"field": "p", "type": "quantitative", "axis": null}, "yError": {"field": "e"}}},
                {"transform": [{"filter": "isValid(datum.t)"}],
                 "mark": {"type": "text", "align": "left", "baseline": "alphabetic", "font": "Liberation Serif", "fontStyle": "italic", "fontSize": 13, "color": "#333333", "dy": -3},
                 "encoding": {"x": {"datum": -1, "type": "quantitative", "axis": null}, "y": {"datum": 5, "type": "quantitative", "axis": null}, "text": {"field": "t"}}},
                {"transform": [{"filter": "isValid(datum.p)"}],
                 "mark": {"type": "point", "shape": "triangle-down", "filled": true, "color": "black", "size": 160, "opacity": 1},
                 "encoding": {
                   "x": {"field": "x", "type": "quantitative", "axis": {"orient": "bottom", "values": [-1, -0.5, 0, 0.5, 1], "format": "~g", "tickSize": -6, "labelPadding": 8, "title": "cosθ*", "titleFontSize": 30, "titleBaseline": "alphabetic", "titleY": 35}},
                   "y": {"field": "p", "type": "quantitative", "axis": {"orient": "left", "values": [-4, -2, 0, 2, 4], "tickSize": -6, "labelPadding": 9, "grid": true, "title": "μb", "titleFontSize": 32, "titleAngle": 0, "titleAlign": "right", "titleBaseline": "alphabetic", "titleX": -1, "titleY": 7}}}}
              ]
            }
          },
          {
            "width": 183, "height": 100,
            "data": {"values": [{}]},
            "layer": [
              {"mark": {"type": "text", "text": "W, GeV", "font": "Liberation Serif", "fontSize": 46, "align": "right", "baseline": "alphabetic", "color": "black"},
               "encoding": {"x": {"datum": 179, "type": "quantitative", "scale": {"domain": [0, 183], "nice": false, "zero": false}, "axis": null},
                            "y": {"datum": 25, "type": "quantitative", "scale": {"domain": [100, 0], "nice": false, "zero": false}, "axis": null}}},
              {"mark": {"type": "point", "shape": "circle", "filled": true, "color": "black", "size": 50, "opacity": 1},
               "encoding": {"x": {"datum": 160, "type": "quantitative"}, "y": {"datum": 238, "type": "quantitative"}}},
              {"mark": {"type": "point", "shape": "circle", "filled": true, "color": "black", "size": 50, "opacity": 1},
               "encoding": {"x": {"datum": 160, "type": "quantitative"}, "y": {"datum": 353, "type": "quantitative"}}},
              {"mark": {"type": "point", "shape": "circle", "filled": true, "color": "black", "size": 50, "opacity": 1},
               "encoding": {"x": {"datum": 160, "type": "quantitative"}, "y": {"datum": 583, "type": "quantitative"}}}
            ]
          }
        ]
      },
      {
        "width": 1011, "height": 71,
        "data": {"values": [{}]},
        "layer": [
          {"mark": {"type": "point", "shape": "circle", "filled": true, "color": "#8a8a8a", "size": 200, "opacity": 0.9},
           "encoding": {"x": {"datum": 48, "type": "quantitative", "scale": {"domain": [0, 1011], "nice": false, "zero": false}, "axis": null},
                        "y": {"datum": 8, "type": "quantitative", "scale": {"domain": [71, 0], "nice": false, "zero": false}, "axis": null}}},
          {"mark": {"type": "text", "text": "Q², GeV²", "font": "Liberation Serif", "fontSize": 46, "align": "left", "baseline": "alphabetic", "color": "black"},
           "encoding": {"x": {"datum": -5, "type": "quantitative"}, "y": {"datum": 50, "type": "quantitative"}}}
        ]
      }
    ]
  }
]
}
